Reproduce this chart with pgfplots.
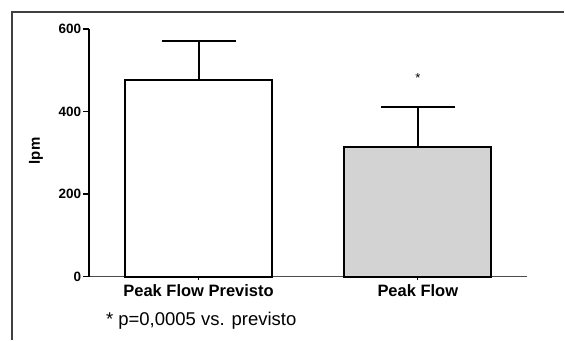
\documentclass[border=0pt]{standalone}
\usepackage{fontspec}
\setmainfont{Liberation Sans}
\usepackage{pgfplots}
\pgfplotsset{compat=1.18}
\begin{document}
\begin{tikzpicture}[x=1pt,y=1pt]
\path (0,0) rectangle (565,340);
\draw[line width=1.2pt, black!75] (12,0) -- (12,328) -- (565,328);
\begin{axis}[
  at={(89pt,63pt)}, anchor=south west,
  scale only axis, width=439pt, height=248pt,
  xmin=-0.5, xmax=1.5, ymin=0, ymax=600,
  axis x line*=bottom, axis y line*=left,
  x axis line style={line width=1.2pt, black!70},
  y axis line style={line width=2pt, black},
  ytick={0,200,400,600},
  xtick={0,1}, xticklabels={Peak Flow Previsto, Peak Flow},
  tick align=outside,
  ytick style={line width=1.5pt, black},
  xtick style={line width=1.2pt, black, /pgfplots/major tick length=3pt},
  major tick length=6pt,
  /pgf/number format/assume math mode=true,
  yticklabel style={font=\bfseries\fontsize{13.5}{13.5}\selectfont, inner sep=1.5pt},
  xticklabel style={font=\bfseries\fontsize{16.5}{16.5}\selectfont, inner sep=2pt},
  ylabel={lpm},
  every axis y label/.style={at={(rel axis cs:-0.1207,0.508)}, rotate=90, anchor=center, font=\bfseries\fontsize{15}{15}\selectfont},
  ybar, bar width=147pt, bar shift=0pt,
  clip=false,
]
\addplot[fill=white, draw=black, line width=2pt,
  error bars/.cd, y dir=plus, y explicit,
  error bar style={line width=2pt, black},
  error mark options={line width=2pt, black, mark size=37pt, rotate=90}]
  coordinates {(0,476) +- (0,95)};
\addplot[fill={rgb,255:red,211;green,211;blue,211}, draw=black, line width=2pt,
  error bars/.cd, y dir=plus, y explicit,
  error bar style={line width=2pt, black},
  error mark options={line width=2pt, black, mark size=37pt, rotate=90}]
  coordinates {(1,314) +- (0,97)};
\node[font=\fontsize{13}{13}\selectfont] at (axis cs:1,480) {*};
\end{axis}
\node[anchor=west, font=\fontsize{18.5}{18.5}\selectfont, inner sep=0pt] at (106,19) {* p=0,0005 vs. previsto};
\end{tikzpicture}
\end{document}
